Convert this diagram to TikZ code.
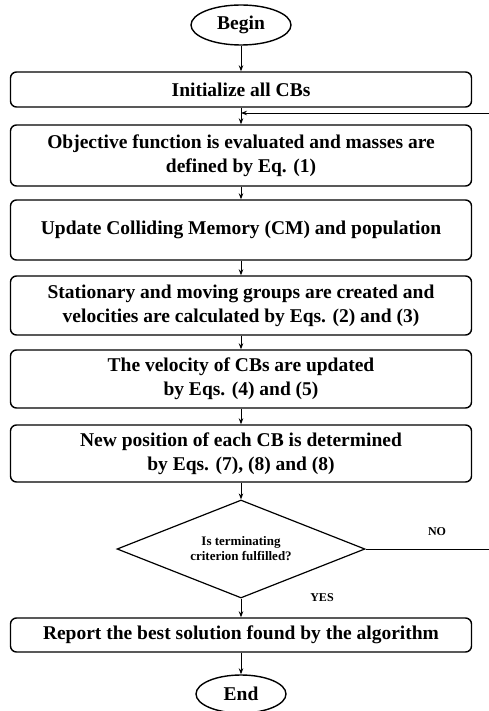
\documentclass[tikz,border=0pt]{standalone}
\usepackage{fontspec}
\setmainfont{Liberation Serif}
\usetikzlibrary{shapes.geometric,arrows.meta}
\begin{document}
\begin{tikzpicture}[x=1pt,y=-1pt,
    box/.style={draw,line width=1.4pt,rounded corners=6pt,minimum width=461pt,
      inner sep=0pt,align=center,font=\fontsize{19.5}{24}\selectfont\bfseries},
    term/.style={draw,ellipse,line width=1.4pt,minimum width=100pt,minimum height=40pt,
      inner sep=0pt,font=\fontsize{19.5}{24}\selectfont\bfseries},
    test/.style={draw,diamond,aspect=2.53,line width=1.2pt,minimum width=248pt,
      minimum height=98pt,inner sep=0pt,align=center,
      font=\fontsize{13}{15}\selectfont\bfseries},
    flow/.style={-{Stealth[length=6pt,width=4.5pt]},line width=0.9pt},
    tag/.style={font=\fontsize{12}{14}\selectfont\bfseries}]
  \useasboundingbox (0,0) rectangle (488,711);
  \node[term] (begin) at (241,25) {Begin};
  \node[box,minimum height=35pt] (init) at (241,89.5) {Initialize all CBs};
  \node[box,minimum height=61pt] (eval) at (241,155.5)
    {Objective function is evaluated and masses are\\defined by Eq. (1)};
  \node[box,minimum height=60pt] (memory) at (241,230)
    {Update Colliding Memory (CM) and population};
  \node[box,minimum height=59pt] (groups) at (241,305.5)
    {Stationary and moving groups are created and\\velocities are calculated by Eqs. (2) and (3)};
  \node[box,minimum height=58pt] (velocity) at (241,379)
    {The velocity of CBs are updated\\by Eqs. (4) and (5)};
  \node[box,minimum height=57pt] (position) at (241,453.5)
    {New position of each CB is determined\\by Eqs. (7), (8) and (8)};
  \node[test] (stop) at (241,549) {Is terminating\\criterion fulfilled?};
  \node[box,minimum height=34pt] (report) at (241,635)
    {Report the best solution found by the algorithm};
  \node[term,minimum width=90pt,minimum height=38pt] (end) at (241,694) {End};
  \node[tag] (no) at (437,532) {NO};
  \node[tag] (yes) at (322,598) {YES};
  \coordinate (join) at (241,113);
  \coordinate (back) at (489,549);

  \draw[flow] (begin) -- (init);
  \draw[flow] (init) -- (eval);
  \draw[flow] (eval) -- (memory);
  \draw[flow] (memory) -- (groups);
  \draw[flow] (groups) -- (velocity);
  \draw[flow] (velocity) -- (position);
  \draw[flow] (position) -- (stop);
  \draw[flow] (stop) -- (report);
  \draw[flow] (report) -- (end);
  \draw[flow] (stop.east) -- (back) |- (join);
\end{tikzpicture}
\end{document}
